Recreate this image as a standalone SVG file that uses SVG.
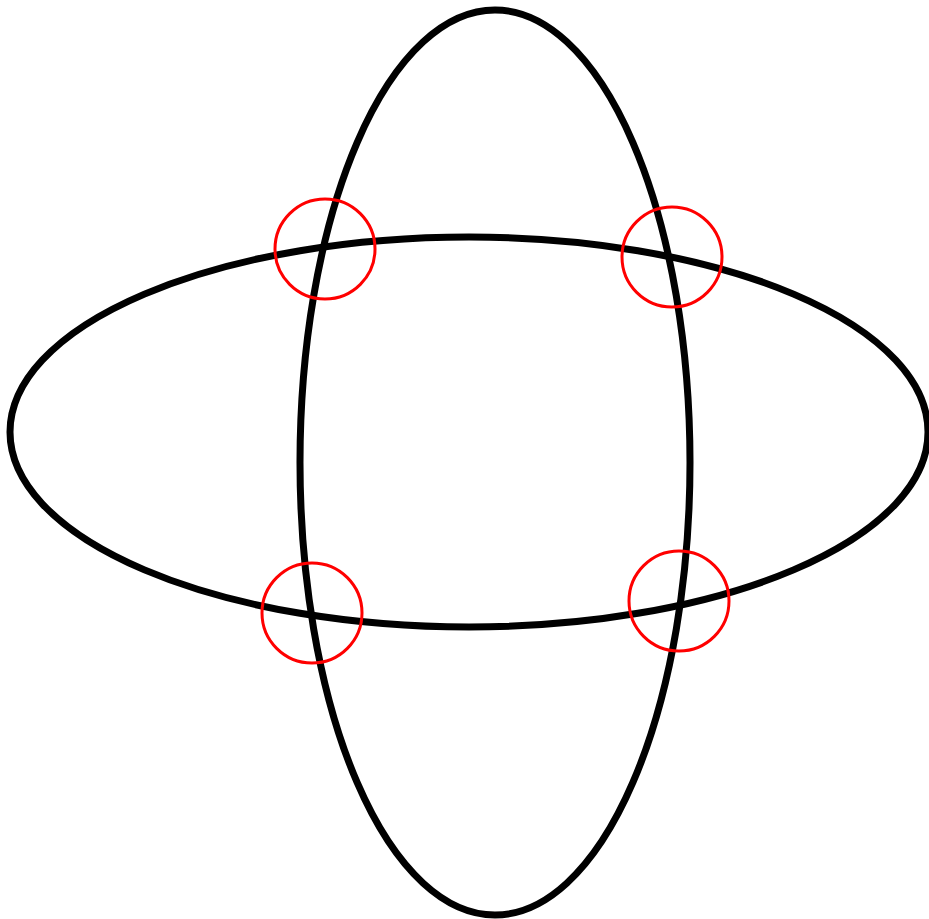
<svg xmlns="http://www.w3.org/2000/svg" width="929" height="919" viewBox="0 0 929 919">
<style>
.e{fill:none;stroke:#000;stroke-width:7}
.c{fill:none;stroke:#ff0000;stroke-width:3}
</style>
<rect width="929" height="919" fill="#fff"/>
<g id="ellipses">
<ellipse id="horizontal" class="e" cx="469" cy="432" rx="459" ry="195"/>
<ellipse id="vertical" class="e" cx="495" cy="462.5" rx="195" ry="452.5"/>
</g>
<g id="markers">
<circle class="c" cx="325" cy="249" r="50"/>
<circle class="c" cx="672" cy="257" r="50"/>
<circle class="c" cx="312" cy="613" r="50"/>
<circle class="c" cx="679" cy="601" r="50"/>
</g>
</svg>
